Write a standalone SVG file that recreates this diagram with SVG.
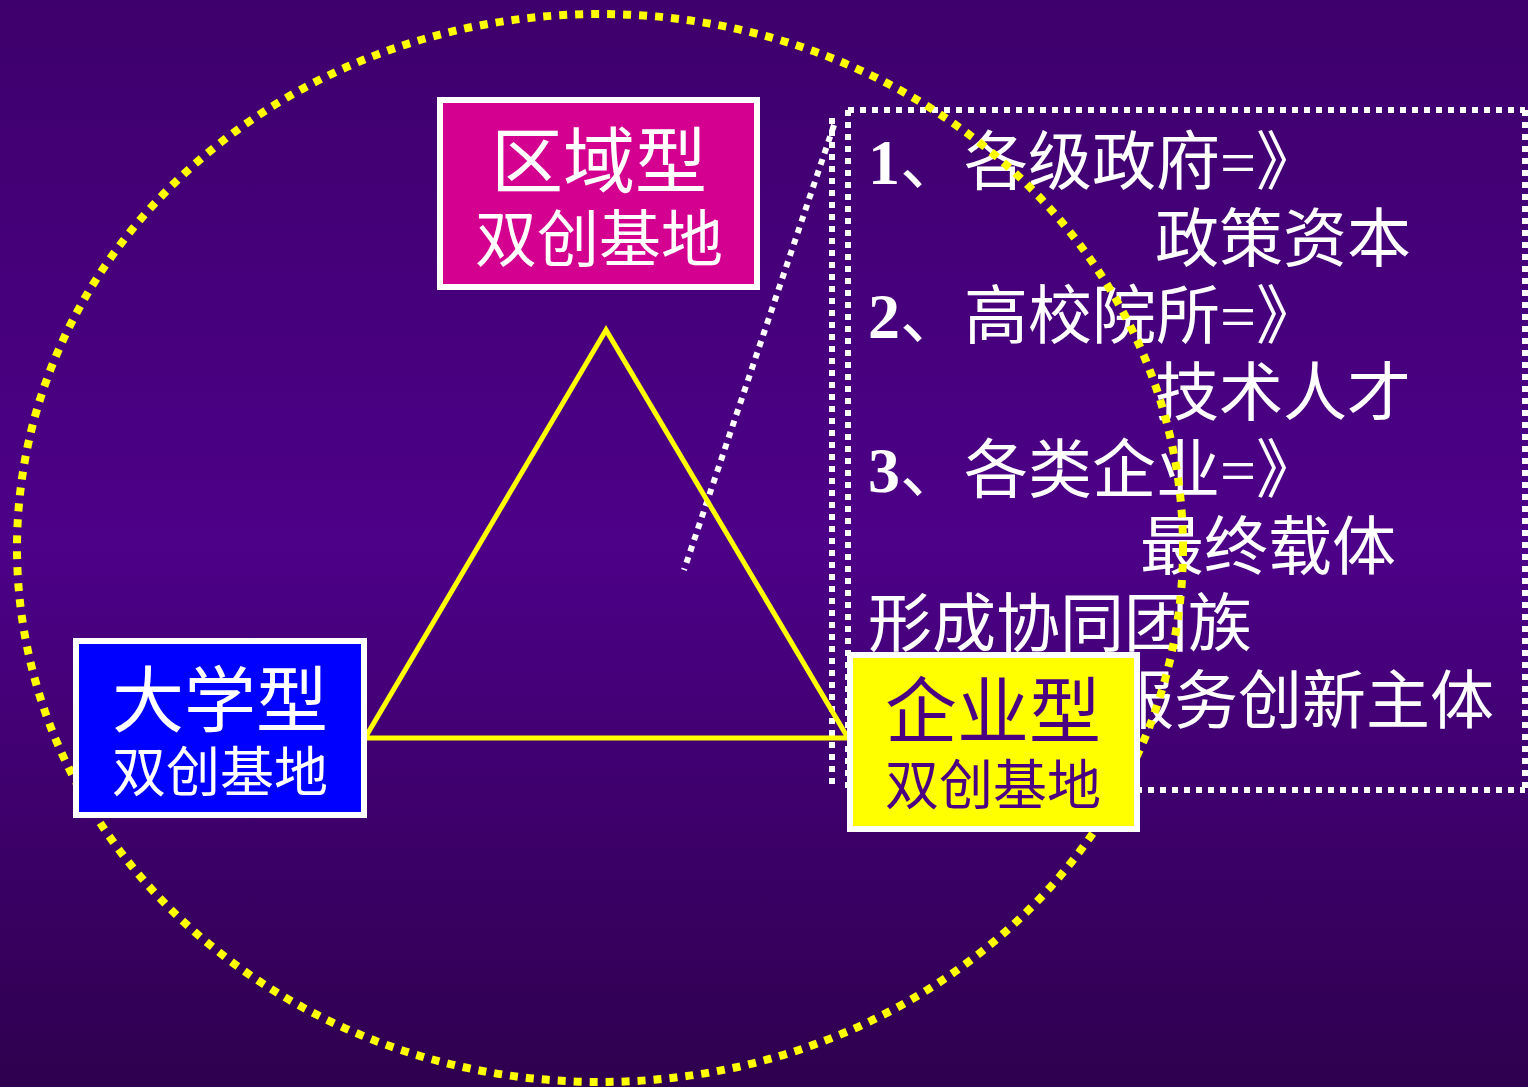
<svg xmlns="http://www.w3.org/2000/svg" width="1528" height="1087" viewBox="0 0 1528 1087">
  <defs>
    <linearGradient id="bg" x1="0" y1="0" x2="0" y2="1">
      <stop offset="0" stop-color="#3e006c"/>
      <stop offset="0.5" stop-color="#4d0088"/>
      <stop offset="1" stop-color="#2e004e"/>
    </linearGradient>
  </defs>
  <style>
    .cjk { font-family: "Liberation Serif", "Noto Sans CJK SC", serif; }
    .wt { fill: #ffffff; }
    .dotw { fill: none; stroke: #ffffff; stroke-width: 6; stroke-dasharray: 6 6; }
    .doty { fill: none; stroke: #ffff00; stroke-width: 8; stroke-dasharray: 8 8; }
    .box { stroke: #ffffff; stroke-width: 6; }
  </style>
  <rect x="0" y="0" width="1528" height="1087" fill="url(#bg)"/>

  <g id="callout">
    <line class="dotw" x1="848" y1="110" x2="1525" y2="110"/>
    <line class="dotw" x1="1525" y1="110" x2="1525" y2="790"/>
    <line class="dotw" x1="848" y1="790" x2="1525" y2="790"/>
    <line class="dotw" x1="848" y1="110" x2="848" y2="790"/>
    <line class="dotw" x1="832" y1="118" x2="832" y2="786"/>
    <g class="cjk wt" font-size="64">
      <text x="868" y="184"><tspan font-weight="bold">1</tspan>、各级政府=》</text>
      <text x="1155" y="261">政策资本</text>
      <text x="868" y="338"><tspan font-weight="bold">2</tspan>、高校院所=》</text>
      <text x="1155" y="415">技术人才</text>
      <text x="868" y="492"><tspan font-weight="bold">3</tspan>、各类企业=》</text>
      <text x="1140" y="569">最终载体</text>
      <text x="868" y="646">形成协同团族</text>
      <text x="1110" y="723">服务创新主体</text>
    </g>
  </g>

  <g id="connectors">
    <line class="dotw" x1="834" y1="125" x2="684" y2="570"/>
    <polygon points="606,330 365,738 848,738" fill="none" stroke="#ffff00" stroke-width="5"/>
  </g>

  <g id="boundary">
    <ellipse class="doty" cx="600" cy="548" rx="583" ry="534"/>
  </g>

  <g id="node-region">
    <rect class="box" x="440" y="100" width="317" height="187" fill="#d4008f"/>
    <text class="cjk wt" x="599" y="187" font-size="72" text-anchor="middle">区域型</text>
    <text class="cjk wt" x="599" y="262" font-size="62" text-anchor="middle">双创基地</text>
  </g>

  <g id="node-university">
    <rect class="box" x="76" y="641" width="288" height="174" fill="#0000ff"/>
    <text class="cjk wt" x="220" y="726" font-size="72" text-anchor="middle">大学型</text>
    <text class="cjk wt" x="220" y="792" font-size="54" text-anchor="middle">双创基地</text>
  </g>

  <g id="node-enterprise">
    <rect class="box" x="850" y="655" width="287" height="174" fill="#ffff00"/>
    <text class="cjk" x="993" y="737" font-size="72" text-anchor="middle" fill="#4b0082">企业型</text>
    <text class="cjk" x="993" y="805" font-size="54" text-anchor="middle" fill="#4b0082">双创基地</text>
  </g>
</svg>
